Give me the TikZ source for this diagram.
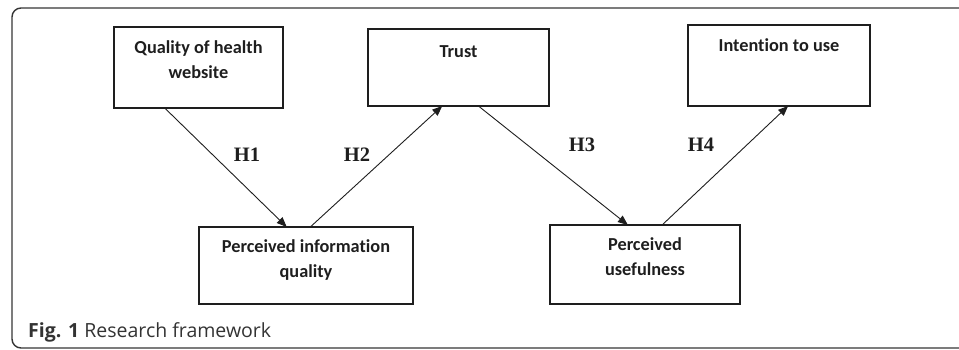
\documentclass[tikz,border=0pt]{standalone}
\usepackage{fontspec}
\setmainfont{Liberation Serif}
\newfontfamily\boxfont[Ligatures=NoCommon]{Carlito}
\newfontfamily\capfont{Open Sans}
\usetikzlibrary{arrows.meta,calc}
\definecolor{ink}{HTML}{1E1E1E}
\definecolor{capgray}{HTML}{333333}
\begin{document}
\begin{tikzpicture}[x=1pt,y=-1pt,
  stepbox/.style={draw=ink,line width=1.2pt,inner sep=0pt,outer sep=0pt},
  boxtext/.style={anchor=north,inner sep=0pt,align=center,text=ink,
    font=\boxfont\bfseries\fontsize{18.3}{25}\selectfont},
  hyp/.style={text=ink,inner sep=0pt,font=\bfseries\fontsize{20.5}{22}\selectfont},
  arr/.style={draw=ink,line width=0.9pt,-{Triangle[length=10pt,width=8pt]}},
  frame/.style={draw=ink!90,line width=1.4pt,rounded corners=9pt}]
\useasboundingbox (0,0) rectangle (959,350);
\clip (0,0) rectangle (959,350);
\draw[frame] (12,8) rectangle (990,348);
% boxes
\node[stepbox,minimum width=169pt,minimum height=81pt] (qhw) at (198.5,67.5) {};
\node[stepbox,minimum width=181pt,minimum height=77pt] (trust) at (458.5,67.5) {};
\node[stepbox,minimum width=182pt,minimum height=81pt] (itu) at (779,65.5) {};
\node[stepbox,minimum width=214pt,minimum height=77pt] (piq) at (306,265.5) {};
\node[stepbox,minimum width=190pt,minimum height=79pt] (pu) at (645,264.5) {};
% box texts
\node[boxtext] (tqhw) at ($(qhw.north)+(0,13)$) {Quality of health\\website};
\node[boxtext] (ttrust) at ($(trust.north)+(0,16)$) {Trust};
\node[boxtext] (titu) at ($(itu.north)+(0,13)$) {Intention to use};
\node[boxtext] (tpiq) at ($(piq.north)+(0,12)$) {Perceived information\\quality};
\node[boxtext] (tpu) at ($(pu.north)+(0,12)$) {Perceived\\usefulness};
% arrows
\draw[arr] ($(qhw.south west)!0.30!(qhw.south east)$) -- ($(piq.north west)!0.41!(piq.north east)$);
\draw[arr] ($(piq.north west)!0.52!(piq.north east)$) -- ($(trust.south west)!0.41!(trust.south east)$);
\draw[arr] ($(trust.south west)!0.61!(trust.south east)$) -- ($(pu.north west)!0.41!(pu.north east)$);
\draw[arr] ($(pu.north west)!0.59!(pu.north east)$) -- ($(itu.south west)!0.55!(itu.south east)$);
% hypothesis labels
\node[hyp] (h1) at (247,155) {H1};
\node[hyp] (h2) at (357,155) {H2};
\node[hyp] (h3) at (582,145) {H3};
\node[hyp] (h4) at (701,145) {H4};
% caption
\node[anchor=base west,inner sep=0pt,text=capgray,font=\capfont\fontsize{19.5}{21}\selectfont] (cap) at (28,337) {\textbf{Fig. 1} Research framework};
\end{tikzpicture}
\end{document}
